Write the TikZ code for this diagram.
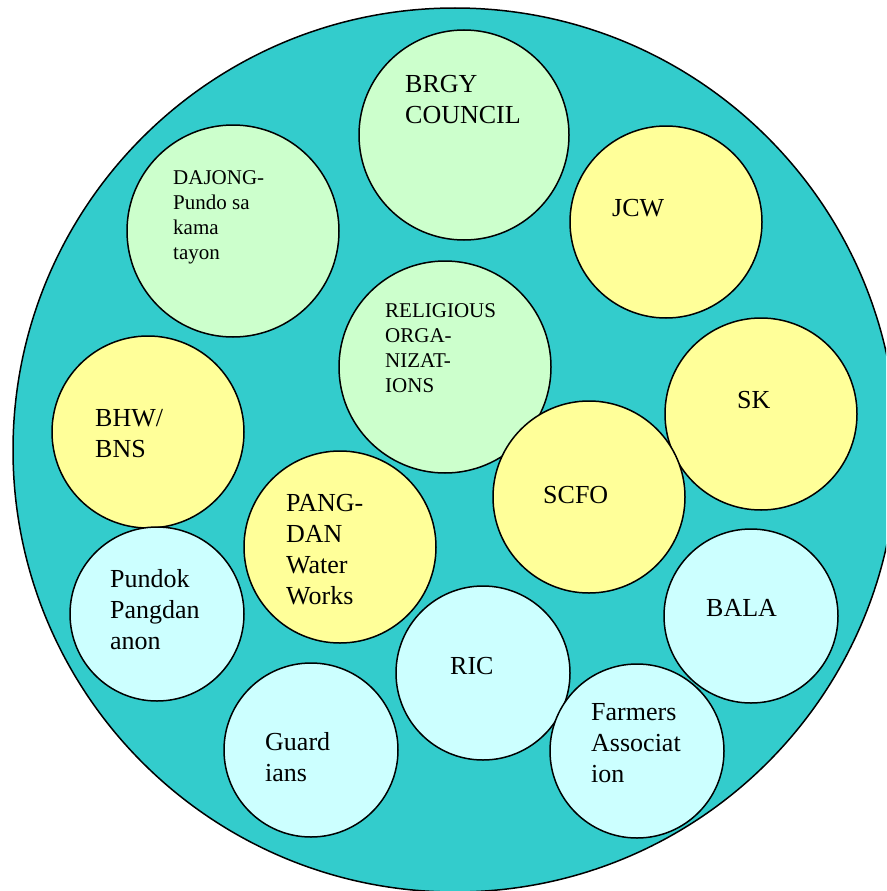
\documentclass[tikz,border=0pt]{standalone}
\usepackage{fontspec}
\setmainfont{Liberation Serif}
\definecolor{tealbg}{HTML}{33CCCC}
\definecolor{lgreen}{HTML}{CCFFCC}
\definecolor{lyellow}{HTML}{FFFF99}
\definecolor{lcyan}{HTML}{CCFFFF}
\tikzset{
  org/.style={circle, draw=black, line width=1.5pt, inner sep=0pt, minimum size=#1},
  bigtxt/.style={font=\fontsize{26}{31}\selectfont, align=left, inner sep=0pt, anchor=north west},
  smalltxt/.style={font=\fontsize{21}{25}\selectfont, align=left, inner sep=0pt, anchor=north west}
}
\begin{document}
\begin{tikzpicture}[x=1pt,y=-1pt]
\clip (0,0) rectangle (886,891);
\fill[white] (0,0) rectangle (886,891);
\node[org=884pt, fill=tealbg] (outer) at (455,450) {};
% circles
\node[org=210pt, fill=lgreen] (brgy) at (464,135) {};
\node[org=212pt, fill=lgreen] (dajong) at (233,231) {};
\node[org=192pt, fill=lyellow] (jcw) at (666,222) {};
\node[org=212pt, fill=lgreen] (relig) at (445,367) {};
\node[org=192pt, fill=lyellow] (sk) at (761,414) {};
\node[org=192pt, fill=lyellow] (bhw) at (148,432) {};
\node[org=192pt, fill=lyellow] (scfo) at (589,497) {};
\node[org=192pt, fill=lyellow] (pangdan) at (340,547) {};
\node[org=174pt, fill=lcyan] (pundok) at (157,614) {};
\node[org=174pt, fill=lcyan] (bala) at (751,616) {};
\node[org=174pt, fill=lcyan] (ric) at (483,673) {};
\node[org=174pt, fill=lcyan] (guard) at (311,750) {};
\node[org=174pt, fill=lcyan] (farmers) at (637,751) {};
% texts
\node[bigtxt] (brgyT) at (405,75) {BRGY\\COUNCIL};
\node[smalltxt] (dajongT) at (173,170) {DAJONG-\\Pundo sa\\kama\\tayon};
\node[bigtxt] (jcwT) at (612,199) {JCW};
\node[smalltxt] (religT) at (385,303) {RELIGIOUS\\ORGA-\\NIZAT-\\IONS};
\node[bigtxt] (skT) at (737,391) {SK};
\node[bigtxt] (bhwT) at (95,409) {BHW/\\BNS};
\node[bigtxt] (scfoT) at (543,486) {SCFO};
\node[bigtxt] (pangdanT) at (286,494) {PANG-\\DAN\\Water\\Works};
\node[bigtxt] (pundokT) at (110,569) {Pundok\\Pangdan\\anon};
\node[bigtxt] (balaT) at (706,599) {BALA};
\node[bigtxt] (ricT) at (450,657) {RIC};
\node[bigtxt] (guardT) at (265,732) {Guard\\ians};
\node[bigtxt] (farmersT) at (591,703) {Farmers\\Associat\\ion};
\end{tikzpicture}
\end{document}
